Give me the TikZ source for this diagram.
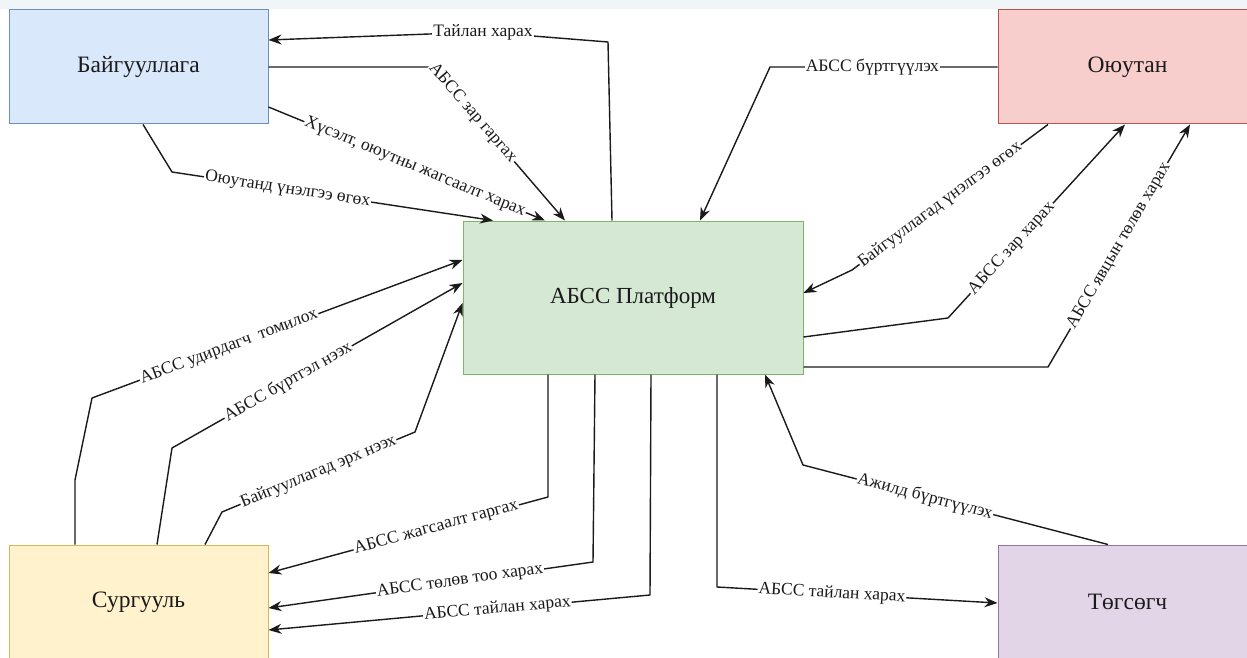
\documentclass[tikz,border=0pt]{standalone}
\usepackage{fontspec}
\setmainfont{Liberation Serif}
\usetikzlibrary{arrows.meta}
\definecolor{orgfill}{HTML}{DAE8FC}\definecolor{orgline}{HTML}{6C8EBF}
\definecolor{oyufill}{HTML}{F8CECC}\definecolor{oyuline}{HTML}{B85450}
\definecolor{platfill}{HTML}{D5E8D4}\definecolor{platline}{HTML}{82B366}
\definecolor{schfill}{HTML}{FFF2CC}\definecolor{schline}{HTML}{D6B656}
\definecolor{gradfill}{HTML}{E1D5E7}\definecolor{gradline}{HTML}{9673A6}
\definecolor{strip}{HTML}{F0F5F8}
\definecolor{ink}{HTML}{1A1A1A}
\begin{document}
\begin{tikzpicture}[x=1pt,y=-1pt,
  box/.style={draw, line width=1pt, minimum width=259pt, minimum height=114pt,
    inner sep=0pt, font=\fontsize{23.5}{27}\selectfont, text=ink},
  lbl/.style={fill=white, inner sep=1pt, font=\fontsize{17.5}{20}\selectfont, text=ink},
  arr/.style={draw=ink, line width=1.4pt, line join=round, -{Stealth[length=13pt,width=10pt]}}]
\useasboundingbox (0,0) rectangle (1247,658);
\clip (0,0) rectangle (1247,658);
\fill[white] (0,0) rectangle (1247,658);
\fill[strip] (0,0) rectangle (1247,9);
% nodes
\node[box, fill=orgfill, draw=orgline] (org) at (138.5,67) {Байгууллага};
\node[box, fill=oyufill, draw=oyuline] (oyu) at (1127.5,67) {Оюутан};
\node[box, fill=platfill, draw=platline, minimum width=340pt, minimum height=153pt, font=\fontsize{23}{27}\selectfont] (plat) at (633,297.5) {АБСС Платформ};
\node[box, fill=schfill, draw=schline] (sch) at (138.5,602) {Сургууль};
\node[box, fill=gradfill, draw=gradline] (grad) at (1127.5,602) {Төгсөгч};
% Байгууллага
\draw[arr] (612,0 |- plat.north) -- (608,42) -- (483,32) node[lbl]{Тайлан харах} -- (org.east |- 0,40);
\draw[arr] (org.east |- 0,67) -- (433,67) -- node[lbl,sloped,pos=0.3]{АБСС зар гаргах} (565,0 |- plat.north);
\draw[arr] (org.east |- 0,107) -- node[lbl,sloped,pos=0.53]{Хүсэлт, оюутны жагсаалт харах} (545,0 |- plat.north);
\draw[arr] (143,0 |- org.south) -- (172,172) -- node[lbl,sloped,pos=0.36]{Оюутанд үнэлгээ өгөх} (493,0 |- plat.north);
% Оюутан
\draw[arr] (oyu.west |- 0,67) -- node[lbl,pos=0.55]{АБСС бүртгүүлэх} (770,67) -- (700,0 |- plat.north);
\draw[arr] (1048,0 |- oyu.south) -- node[lbl,sloped,pos=0.55]{Байгууллагад үнэлгээ өгөх} (852,270) -- (plat.east |- 0,293);
\draw[arr] (plat.east |- 0,337) -- (948,318) -- node[lbl,sloped,pos=0.36]{АБСС зар харах} (1125,0 |- oyu.south);
\draw[arr] (plat.east |- 0,367) -- (1048,367) -- node[lbl,sloped,pos=0.5]{АБСС явцын төлөв харах} (1190,0 |- oyu.south);
% Сургууль
\draw[arr] (75,0 |- sch.north) -- (75,480) -- (92,398) -- node[lbl,sloped,pos=0.37]{АБСС удирдагч\ \ томилох} (plat.west |- 0,260);
\draw[arr] (157,0 |- sch.north) -- (172,448) -- node[lbl,sloped,pos=0.4]{АБСС бүртгэл нээх} (plat.west |- 0,283);
\draw[arr] (205,0 |- sch.north) -- (222,512) -- node[lbl,sloped,pos=0.5]{Байгууллагад эрх нээх} (415,432) -- (plat.west |- 0,303);
\draw[arr] (548,0 |- plat.south) -- (548,497) -- node[lbl,sloped,pos=0.4]{АБСС жагсаалт гаргах} (sch.east |- 0,573);
\draw[arr] (595,0 |- plat.south) -- (593,562) -- node[lbl,sloped,pos=0.41]{АБСС төлөв тоо харах} (sch.east |- 0,608);
\draw[arr] (651,0 |- plat.south) -- (650,595) -- node[lbl,sloped,pos=0.4]{АБСС тайлан харах} (sch.east |- 0,630);
% Төгсөгч
\draw[arr] (1108,0 |- grad.north) -- node[lbl,sloped,pos=0.6]{Ажилд бүртгүүлэх} (803,465) -- (765,0 |- plat.south);
\draw[arr] (717,0 |- plat.south) -- (717,587) -- node[lbl,sloped,pos=0.41]{АБСС тайлан харах} (grad.west |- 0,603);
\end{tikzpicture}
\end{document}
